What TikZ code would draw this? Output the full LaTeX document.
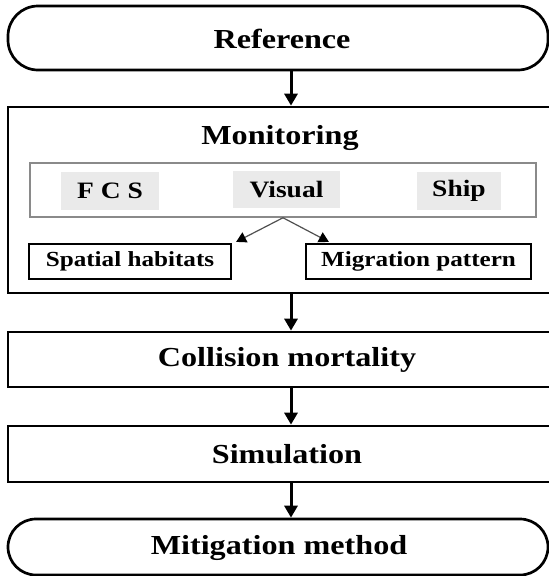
\documentclass[tikz,border=0pt]{standalone}
\usepackage{fontspec}
\setmainfont{Liberation Serif}
\usetikzlibrary{arrows.meta}
\definecolor{boxgrey}{HTML}{EAEAEA}
\definecolor{framegrey}{HTML}{8A8A8A}
\definecolor{linkgrey}{HTML}{505050}
\newcommand{\wide}[1]{\scalebox{1.17}[1]{#1}}
\newcommand{\bigtxt}{\fontsize{27.5}{30}\selectfont\bfseries}
\newcommand{\midtxt}{\fontsize{23.5}{26}\selectfont\bfseries}
\newcommand{\smltxt}{\fontsize{21.5}{24}\selectfont\bfseries}
\tikzset{
  mainbox/.style={draw=black, line width=2.7pt, fill=white, inner sep=0pt},
  termbox/.style={mainbox, rounded corners=30pt},
  innerbox/.style={draw=framegrey, line width=1.5pt, fill=white, inner sep=0pt},
  greybox/.style={fill=boxgrey, inner sep=0pt},
  subbox/.style={draw=black, line width=2.2pt, fill=white, inner sep=0pt},
  plain/.style={inner sep=0pt},
  mainarrow/.style={line width=3pt, -{Triangle[width=13pt,length=12pt]}},
  linkarrow/.style={draw=linkgrey, line width=1.2pt, -{Triangle[width=11pt,length=10pt,fill=black,color=black]}}
}
\begin{document}
\begin{tikzpicture}[x=1pt,y=-1pt]
\useasboundingbox (0,0) rectangle (549,576);
\clip (0,0) rectangle (549,576);
% main boxes
\node[termbox, minimum width=540pt, minimum height=64pt] (ref) at (278,38) {};
\node[plain] (reftxt) at (282,39) {\bigtxt\wide{Reference}};
\node[mainbox, minimum width=543pt, minimum height=186pt] (mon) at (279.5,200) {};
\node[plain] (montxt) at (280,138) {\bigtxt\wide{Monitoring}};
\node[innerbox, minimum width=506pt, minimum height=54pt] (inner) at (283,190) {};
\node[greybox, minimum width=98pt, minimum height=38pt] (fcs) at (110,191) {\midtxt\wide{F C S}};
\node[greybox, minimum width=107pt, minimum height=37pt] (vis) at (286.5,189.5) {\midtxt\wide{Visual}};
\node[greybox, minimum width=84pt, minimum height=38pt] (ship) at (459,191) {\midtxt\wide{Ship}};
\node[subbox, minimum width=202pt, minimum height=35pt] (spat) at (130,261.5) {\smltxt\wide{Spatial habitats}};
\node[subbox, minimum width=225pt, minimum height=35pt] (migr) at (418.5,261.5) {\smltxt\wide{Migration pattern}};
\node[mainbox, minimum width=543pt, minimum height=55pt] (coll) at (279.5,359.5) {};
\node[plain] (colltxt) at (287,360) {\bigtxt\wide{Collision mortality}};
\node[mainbox, minimum width=543pt, minimum height=56pt] (simu) at (279.5,454) {};
\node[plain] (simutxt) at (287,454.5) {\bigtxt\wide{Simulation}};
\node[termbox, rounded corners=28pt, minimum width=540pt, minimum height=56pt] (miti) at (278,547) {};
\node[plain] (mititxt) at (279,547.5) {\bigtxt\wide{Mitigation method}};
% connectors
\coordinate (ax) at (291,0);
\draw[mainarrow] (ref.south -| ax) -- (mon.north -| ax);
\draw[mainarrow] (mon.south -| ax) -- (coll.north -| ax);
\draw[mainarrow] (coll.south -| ax) -- (simu.north -| ax);
\draw[mainarrow] (simu.south -| ax) -- (miti.north -| ax);
\draw[linkarrow] (inner.south) -- ([xshift=4pt,yshift=1pt]spat.north east);
\draw[linkarrow] (inner.south) -- ([xshift=24pt,yshift=1pt]migr.north west);
\end{tikzpicture}
\end{document}
